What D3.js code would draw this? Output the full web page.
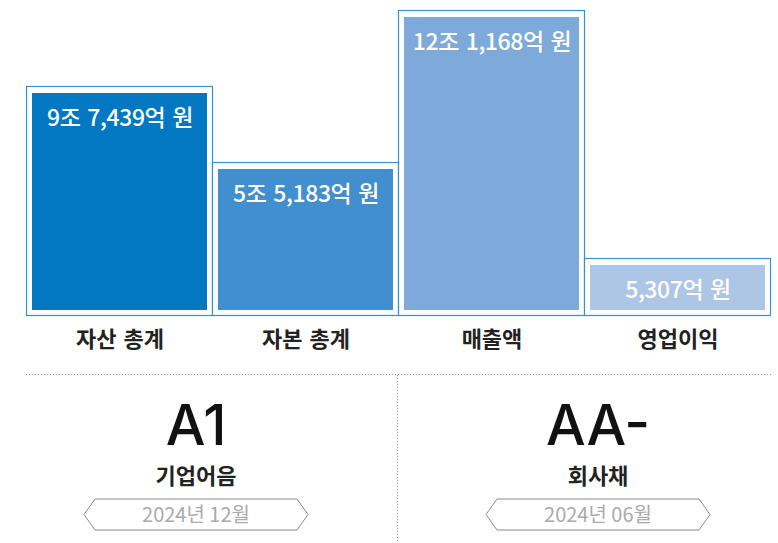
<!DOCTYPE html>
<html><head><meta charset="utf-8">
<script src="https://cdn.jsdelivr.net/npm/d3@7"></script>
<style>
html,body{margin:0;padding:0;background:#fff;}
svg{display:block;font-family:"Noto Sans CJK KR","Noto Sans",sans-serif;}
</style></head>
<body>
<svg id="chart" width="778" height="543"></svg>
<script>
// ---- data ----
const categories = ["자산 총계", "자본 총계", "매출액", "영업이익"];
const values = [97439, 55183, 121168, 5307]; // 억 원
const valueLabels = ["9조 7,439억 원", "5조 5,183억 원", "12조 1,168억 원", "5,307억 원"];
const barColors = ["#0277c2", "#418fce", "#7eaad9", "#adc6e6"];
const ratings = ["A1", "AA-"];
const ratingTypes = ["기업어음", "회사채"];
const ratingDates = ["2024년 12월", "2024년 06월"];

const svg = d3.select("#chart");

// ---- bars ----
const baseY = 315;
const x = d3.scaleBand().domain(categories).range([26, 770]).padding(0);
// stylised (non-proportional) height scale
const sorted = values.slice().sort((a, b) => a - b);
const h = d3.scaleLinear()
  .domain([0].concat(sorted))
  .range([0, 57, 153, 229, 305]);

const g = svg.append("g");
const bars = g.selectAll("g.bar").data(categories).join("g").attr("class", "bar");

bars.append("rect")
  .attr("x", d => x(d) + 0.5)
  .attr("y", (d, i) => baseY - h(values[i]) + 0.5)
  .attr("width", x.bandwidth())
  .attr("height", (d, i) => h(values[i]))
  .attr("fill", "#fff")
  .attr("stroke", "#2f92da")
  .attr("stroke-width", 1.2);

const inset = 6;
bars.append("rect")
  .attr("x", d => x(d) + inset)
  .attr("y", (d, i) => baseY - h(values[i]) + inset + 1)
  .attr("width", x.bandwidth() - inset * 2 + 1)
  .attr("height", (d, i) => h(values[i]) - inset * 2)
  .attr("fill", (d, i) => barColors[i]);

bars.append("text")
  .attr("x", d => x(d) + x.bandwidth() / 2 + 1)
  .attr("y", (d, i) => baseY - h(values[i]) + 40)
  .attr("text-anchor", "middle")
  .attr("fill", "#fff")
  .attr("font-size", 23)
  .attr("font-weight", 500)
  .attr("letter-spacing", -0.4)
  .attr("word-spacing", 2)
  .text((d, i) => valueLabels[i]);

bars.append("text")
  .attr("x", d => x(d) + x.bandwidth() / 2 + 1)
  .attr("y", 347)
  .attr("text-anchor", "middle")
  .attr("fill", "#222")
  .attr("font-size", 22)
  .attr("font-weight", 700)
  .attr("word-spacing", 2)
  .text(d => d);

// ---- divider lines ----
svg.append("line")
  .attr("x1", 26).attr("x2", 772).attr("y1", 374.5).attr("y2", 374.5)
  .attr("stroke", "#999").attr("stroke-width", 1).attr("stroke-dasharray", "1,2");
svg.append("line")
  .attr("x1", 397.5).attr("x2", 397.5).attr("y1", 375).attr("y2", 543)
  .attr("stroke", "#999").attr("stroke-width", 1).attr("stroke-dasharray", "1,2");

// ---- ratings ----
const cx = d3.scalePoint().domain(ratings).range([196, 598]);
const rg = svg.selectAll("g.rating").data(ratings).join("g").attr("class", "rating")
  .attr("transform", d => `translate(${cx(d)},0)`);

rg.append("text")
  .attr("y", 445)
  .attr("text-anchor", "middle")
  .attr("fill", "#111")
  .attr("font-size", 56)
  .attr("font-weight", 500)
  .attr("font-family", "Inter, 'Noto Sans', sans-serif")
  .text(d => d);

rg.append("text")
  .attr("y", 484)
  .attr("text-anchor", "middle")
  .attr("fill", "#222")
  .attr("font-size", 22)
  .attr("font-weight", 700)
  .text((d, i) => ratingTypes[i]);

const bw = 112, bh = 15.5, tip = 11;
rg.append("path")
  .attr("d", `M${-bw},514.5 L${-bw + tip},${514.5 - bh} L${bw - tip},${514.5 - bh} L${bw},514.5 L${bw - tip},${514.5 + bh} L${-bw + tip},${514.5 + bh} Z`)
  .attr("fill", "#fff")
  .attr("stroke", "#8a8a8a")
  .attr("stroke-width", 1);

rg.append("text")
  .attr("y", 522)
  .attr("text-anchor", "middle")
  .attr("fill", "#aaa")
  .attr("font-size", 20)
  .attr("font-weight", 400)
  .text((d, i) => ratingDates[i]);
</script>
</body></html>
